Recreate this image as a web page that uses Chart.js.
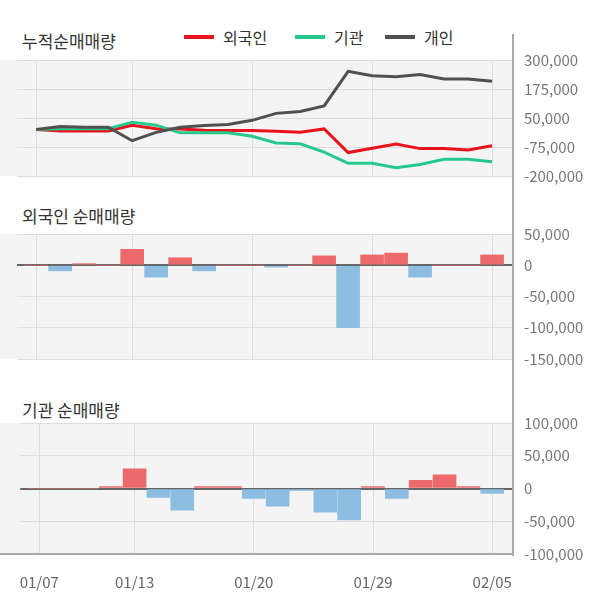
<!DOCTYPE html>
<html>
<head>
<meta charset="utf-8">
<script src="https://cdn.jsdelivr.net/npm/chart.js"></script>
<style>
  body { margin: 0; width: 600px; height: 604px; position: relative; background: #fff; overflow: hidden;
         font-family: "Noto Sans CJK KR", "Noto Sans", sans-serif; }
  canvas { position: absolute; left: 0; }
  .t { position: absolute; left: 22px; font-size: 17px; color: #333; line-height: 17px; }
  .lg { position: absolute; top: 29px; font-size: 16px; color: #333; line-height: 16px; display: flex; align-items: center; }
  .lg i { display: inline-block; width: 30px; height: 4px; margin-right: 9px; }
</style>
</head>
<body>
<div class="t" style="top:32px">누적순매매량</div>
<div class="lg" style="left:184px"><i style="background:#e8141b"></i>외국인</div>
<div class="lg" style="left:295px"><i style="background:#26c98d"></i>기관</div>
<div class="lg" style="left:385px"><i style="background:#505050"></i>개인</div>
<div class="t" style="top:207px">외국인 순매매량</div>
<div class="t" style="top:401px">기관 순매매량</div>

<canvas id="c1" width="600" height="200" style="top:0"></canvas>
<canvas id="c2" width="600" height="190" style="top:190px"></canvas>
<canvas id="c3" width="600" height="224" style="top:380px"></canvas>

<script>
// trading days
const dates = ['01/07','01/08','01/09','01/10','01/13','01/14','01/15','01/16','01/17','01/20',
               '01/21','01/22','01/23','01/28','01/29','01/30','01/31','02/03','02/04','02/05'];
const dateTicks = [0, 4, 9, 14, 19];

// cumulative net buying
const foreignCum = [0, -6000, -6000, -6000, 19000, 4000, 3000, -3000, -4000, -4000,
                    -7000, -11000, 3000, -99000, -80000, -62000, -82000, -82000, -88000, -70000];
const instCum = [0, 4000, 4000, 4000, 32000, 19000, -14000, -14000, -14000, -29000,
                 -58000, -61000, -97000, -145000, -145000, -164000, -150000, -128000, -128000, -139000];
const indivCum = [0, 13000, 10000, 10000, -48000, -12000, 10000, 18000, 22000, 40000,
                  70000, 78000, 102000, 251000, 232000, 228000, 237000, 218000, 218000, 208000];

// daily net buying
const foreignDaily = [0, -9000, 2500, 0, 25500, -19000, 12000, -9000, 0, 0,
                      -3000, 0, 15000, -100000, 16500, 19500, -19000, 0, 0, 16500];
const instDaily = [0, 0, 0, 3000, 30000, -13500, -33000, 3000, 3000, -15000,
                   -27000, -3000, -36000, -48000, 3000, -15000, 12500, 21000, 3000, -7500];

const cumTicks = [300000, 175000, 50000, -75000, -200000];
const foreignTicks = [50000, 0, -50000, -100000, -150000];
const instTicks = [100000, 50000, 0, -50000, -100000];

Chart.defaults.font.family = "'Noto Sans CJK KR', 'Noto Sans', sans-serif";
Chart.defaults.font.size = 15;
Chart.defaults.color = '#777';

const pts = arr => arr.map((v, i) => ({ x: i, y: v }));
const barColors = arr => arr.map(v => v >= 0 ? '#ec6a6c' : '#8ebde2');

const frame = {
  id: 'frame',
  beforeDraw(chart, args, opts) {
    const { ctx, chartArea: a } = chart;
    ctx.save();
    ctx.fillStyle = '#f4f4f4';
    ctx.fillRect(0, a.top, a.right, a.bottom - a.top);
    ctx.restore();
  },
  afterDraw(chart, args, opts) {
    const { ctx, chartArea: a } = chart;
    ctx.save();
    ctx.strokeStyle = '#aaa';
    ctx.lineWidth = 2;
    ctx.beginPath();
    ctx.moveTo(a.right + 1, opts.top);
    ctx.lineTo(a.right + 1, opts.bottom);
    if (opts.base) {
      ctx.moveTo(0, a.bottom);
      ctx.lineTo(a.right, a.bottom);
    }
    ctx.stroke();
    ctx.restore();
  }
};

function xScale(showLabels) {
  return {
    type: 'linear', min: -0.8, max: 19.83, offset: false,
    afterBuildTicks: s => { s.ticks = dateTicks.map(v => ({ value: v })); },
    afterFit: s => { s.height = showLabels ? 50 : 0; },
    border: { display: false },
    grid: { color: '#ddd', drawTicks: false, offset: false },
    ticks: {
      display: showLabels, autoSkip: false, maxRotation: 0, padding: 19, color: '#666',
      callback: v => dates[v]
    }
  };
}

function yScale(ticks) {
  return {
    position: 'right', min: ticks[ticks.length - 1], max: ticks[0],
    afterBuildTicks: s => { s.ticks = ticks.map(v => ({ value: v })); },
    afterFit: s => { s.width = 88; },
    border: { display: false },
    grid: {
      drawTicks: false,
      color: c => c.tick && c.tick.value === 0 ? '#666' : '#ddd',
      lineWidth: c => c.tick && c.tick.value === 0 ? 2 : 1
    },
    ticks: { padding: 12, callback: v => v.toLocaleString('en-US') }
  };
}

function baseOptions(padTop, padBottom, yTicks, showLabels, frameOpts) {
  return {
    responsive: false, animation: false, devicePixelRatio: 1,
    layout: { padding: { left: 17, right: 0, top: padTop, bottom: padBottom } },
    plugins: { legend: { display: false }, tooltip: { enabled: false }, frame: frameOpts },
    scales: { x: xScale(showLabels), y: yScale(yTicks) }
  };
}

const lineSet = (data, color) => ({
  data: pts(data), borderColor: color, borderWidth: 3, pointRadius: 0, tension: 0, fill: false
});

new Chart(document.getElementById('c1'), {
  type: 'line',
  data: {
    datasets: [
      lineSet(indivCum, '#505050'),
      lineSet(instCum, '#26c98d'),
      lineSet(foreignCum, '#e8141b')
    ]
  },
  options: baseOptions(60, 24, cumTicks, false, { top: 34, bottom: 200 }),
  plugins: [frame]
});

const barSet = data => ({
  data: pts(data), backgroundColor: barColors(data), barThickness: 23, borderWidth: 0
});

new Chart(document.getElementById('c2'), {
  type: 'bar',
  data: { datasets: [barSet(foreignDaily)] },
  options: baseOptions(44, 16, foreignTicks, false, { top: 0, bottom: 190 }),
  plugins: [frame]
});

new Chart(document.getElementById('c3'), {
  type: 'bar',
  data: { datasets: [barSet(instDaily)] },
  options: baseOptions(43, 0, instTicks, true, { top: 0, bottom: 176, base: true }),
  plugins: [frame]
});
</script>
</body>
</html>
